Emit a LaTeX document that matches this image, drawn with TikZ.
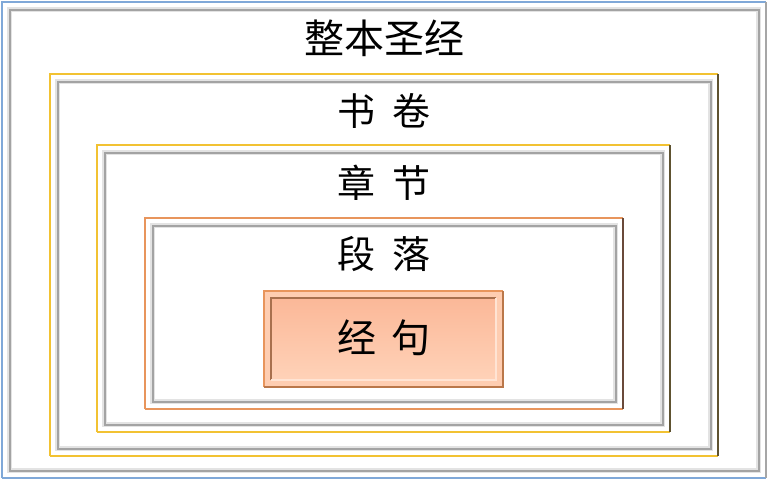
\documentclass[tikz,border=0pt]{standalone}
\usepackage{fontspec}
\newfontfamily\cjk{Noto Sans CJK SC}
\definecolor{blueedge}{HTML}{7FA8D8}
\definecolor{goldedge}{HTML}{F2C232}
\definecolor{golddark}{HTML}{5E5230}
\definecolor{orangeedge}{HTML}{E8955C}
\definecolor{orangedark}{HTML}{6A4A3A}
\definecolor{salmonA}{HTML}{FBB898}
\definecolor{salmonB}{HTML}{FFD2B8}
\definecolor{brownin}{HTML}{A8704E}
\tikzset{
  lbl/.style={font=\cjk\fontsize{38}{40}\selectfont, inner sep=0pt, text=black},
  bevel/.style={line width=5pt, color=gray!22},
  bevelcore/.style={line width=2pt, color=gray!72},
}
\newcommand{\bevframe}[6]{%
  \fill[white] (#1,#2) rectangle (#3,#4);
  \draw[bevel] (#1+7.5,#2+7.5) rectangle (#3-7.5,#4-7.5);
  \draw[bevelcore] (#1+7.5,#2+7.5) rectangle (#3-7.5,#4-7.5);
  \draw[#5, line width=1.8pt] (#1,#4) -- (#1,#2) -- (#3,#2);
  \draw[#5, line width=1.8pt] (#1,#4) -- (#3,#4);
  \draw[#6, line width=1.8pt] (#3,#2) -- (#3,#4);
}
\begin{document}
\begin{tikzpicture}[x=1pt,y=-1pt]
\useasboundingbox (0,0) rectangle (768,480);
\fill[white] (0,0) rectangle (768,480);
% outer frame
\bevframe{2}{2}{766}{478}{blueedge}{gray!70}
% book
\bevframe{50}{74}{718}{456}{goldedge}{golddark}
% chapter
\bevframe{97}{145}{670}{432}{goldedge}{golddark}
% paragraph
\bevframe{145}{218}{623}{409}{orangeedge}{orangedark}
% verse box
\fill[salmonB!80!salmonA] (264,291) rectangle (503,387);
\shade[top color=salmonA, bottom color=salmonB] (271,298) rectangle (496,380);
\draw[brownin, line width=2pt] (271,380) -- (271,298) -- (496,298);
\draw[salmonB!60!white, line width=1.5pt] (496,298) -- (496,380) -- (271,380);
\draw[orangeedge, line width=1.8pt] (264,387) -- (264,291) -- (503,291);
\draw[orangeedge!80!black, line width=1.8pt] (503,291) -- (503,387) -- (264,387);
% labels
\node[lbl, font=\cjk\fontsize{40}{42}\selectfont] (whole) at (384,38) {整本圣经};
\node[lbl] (book) at (384,111) {书\hspace{18pt}卷};
\node[lbl] (chapter) at (384,183) {章\hspace{18pt}节};
\node[lbl] (para) at (384,254) {段\hspace{18pt}落};
\node[lbl, font=\cjk\fontsize{39}{42}\selectfont] (verse) at (384,338) {经\hspace{16pt}句};
\end{tikzpicture}
\end{document}
